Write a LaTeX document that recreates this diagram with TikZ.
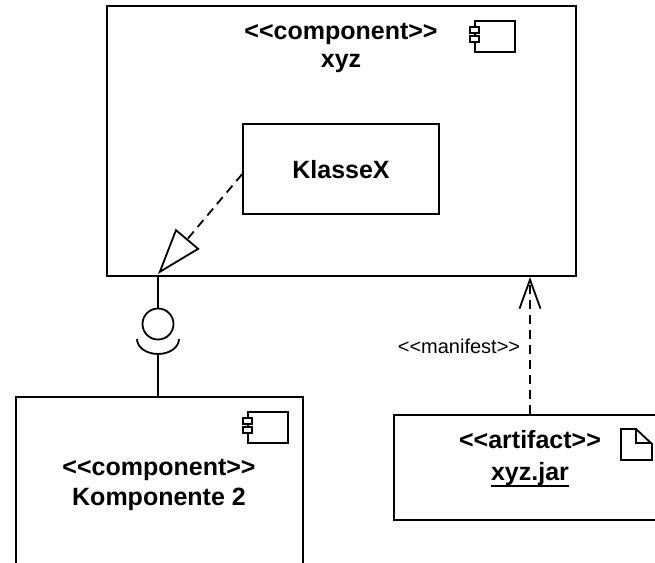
\documentclass[tikz,border=0pt]{standalone}
\usepackage{fontspec}
\setmainfont{Liberation Sans}
\usetikzlibrary{arrows.meta}
\newcommand{\stereo}[1]{<{}<#1>{}>}
\newcommand{\bigfont}{\fontsize{25}{30}\selectfont\bfseries}
\newcommand{\thickunder}[1]{\vtop{\hbox{#1}\kern-1.5pt\hrule height 2.5pt}}
\tikzset{
    umlbox/.style={draw=black, line width=1.8pt, inner sep=0pt, fill=white},
    umltext/.style={font=\bigfont, align=center, inner sep=0pt},
    umlline/.style={draw=black, line width=1.8pt},
    umldash/.style={umlline, dash pattern=on 9pt off 6pt},
}

\begin{document}
\begin{tikzpicture}[x=1pt, y=-1pt, line join=miter]
    \useasboundingbox (0,0) rectangle (655,562);
    \clip (0,0) rectangle (655,562);

    \node[umlbox, minimum width=469pt, minimum height=270pt] (xyz) at (341.5,141) {};
    \node[umlbox, minimum width=196pt, minimum height=90pt] (klasseX) at (341,169) {};
    \node[umlbox, minimum width=287pt, minimum height=203pt] (komponente) at (159.5,498.5) {};
    \node[umlbox, minimum width=306pt, minimum height=105pt] (artifact) at (547,467.5) {};

    \node[umltext] (xyzlabel) at (341,48) {\stereo{component}\\[-2pt]xyz};
    \node[umltext] (klasseXlabel) at (341,170) {KlasseX};
    \node[umltext] (komponentelabel) at (159,485) {\stereo{component}\\Komponente 2};
    \node[umltext] (artifactlabel) at (530,459) {\stereo{artifact}\\[2pt]\thickunder{xyz.jar}};

    % component icons
    \foreach \x/\y in {475/21,248/412}{
      \draw[umlline] (\x,\y) rectangle +(40,31);
      \draw[umlline, fill=white] (\x-5,\y+6) rectangle +(9,6);
      \draw[umlline, fill=white] (\x-5,\y+15) rectangle +(9,6);
    }

    % artifact icon
    \draw[umlline] (621,429) -- (636,429) -- (652,444) -- (652,460) -- (621,460) -- cycle;
    \draw[umlline] (636,429) -- (636,443) -- (652,443);

    \coordinate (tip) at (158,274);
    \coordinate (port) at (158,276);
    \coordinate (socketleft) at (137,339);
    \coordinate (socket) at (158,354);
    \coordinate (manifesttip) at (530,277);

    \draw[umldash, -{Triangle[open, fill=white, length=46pt, width=31pt, line width=1.8pt]}]
    (klasseX.183.5) -- (tip);

    \node[circle, draw=black, line width=1.8pt, minimum size=31pt, inner sep=0pt] (ball) at (158,324) {};
    \draw[umlline] (port) -- (ball);
    \draw[umlline] (socketleft) arc[start angle=180, end angle=0, x radius=21, y radius=15];
    \draw[umlline] (socket) -- (socket |- komponente.north);

    \draw[umldash, -{Straight Barb[length=29pt, width=21pt, line width=1.8pt]}]
    (manifesttip |- artifact.north) -- (manifesttip);
    \node[font=\fontsize{20}{24}\selectfont, inner sep=0pt] (manifestlabel) at (459,346) {\stereo{manifest}};
\end{tikzpicture}
\end{document}
